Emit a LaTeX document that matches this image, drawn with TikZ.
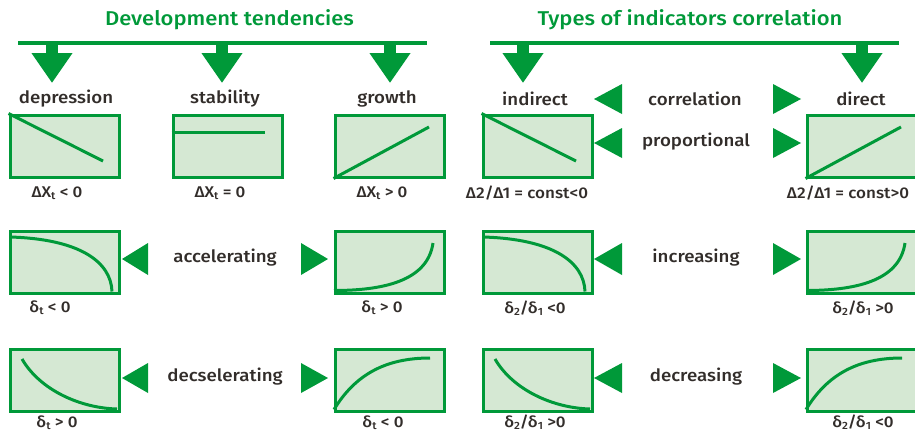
\documentclass[tikz,border=0pt]{standalone}
\usepackage{fontspec}
\setmainfont{Fira Sans}[BoldFont={Fira Sans Medium},FakeStretch=1.1]
\usetikzlibrary{arrows.meta}
\definecolor{gr}{RGB}{0,153,57}
\definecolor{lgr}{RGB}{213,232,211}
\definecolor{tx}{RGB}{50,45,42}
\newcommand\sbx[1]{\raisebox{-0.25ex}{\fontsize{10.5}{10.5}\selectfont #1}}
\begin{document}
\begin{tikzpicture}[x=1pt,y=-1pt,
  panel/.style={draw=gr,fill=lgr,line width=3pt,minimum width=109pt,minimum height=62pt,inner sep=0pt,anchor=north west},
  curve/.style={draw=gr,line width=3pt},
  title/.style={text=gr,font=\fontsize{20}{20}\selectfont\bfseries},
  head/.style={text=tx,font=\fontsize{17}{17}\selectfont\bfseries},
  cond/.style={text=tx,font=\fontsize{15.5}{15.5}\selectfont\bfseries},
  bar/.style={draw=gr,line width=3.7pt},
  downarr/.style={draw=gr,line width=12pt,-{Triangle[width=39pt,length=30pt]}},
  tri/.style={fill=gr}
]
\useasboundingbox (0,0) rectangle (915,432);

% titles and bars
\node[title] (t1) at (229.5,20) {Development tendencies};
\node[title] (t2) at (690,20) {Types of indicators correlation};
\coordinate (b1l) at (18,42.7); \coordinate (b1r) at (427,42.7);
\coordinate (b2l) at (490,42.7); \coordinate (b2r) at (899,42.7);
\draw[bar] (b1l) -- (b1r);
\draw[bar] (b2l) -- (b2r);

% heads
\node[head] (hdep) at (66,99) {depression};
\node[head] (hsta) at (225,99) {stability};
\node[head] (hgro) at (387,99) {growth};
\node[head] (hind) at (535,99) {indirect};
\node[head] (hdir) at (861,99) {direct};
\node[head] (hcor) at (695,99) {correlation};
\node[head] (hpro) at (696,142) {proportional};
\node[head] (hacc) at (225,258) {accelerating};
\node[head] (hinc) at (696,258) {increasing};
\node[head] (hdec) at (225,377) {decselerating};
\node[head] (hdcr) at (696,377) {decreasing};

% down arrows
\foreach \n/\x in {a/52,b/222,c/390,d/523,e/862}{
  \coordinate (s\n) at (\x,41);
  \coordinate (e\n) at (\x,83);
  \draw[downarr] (s\n) -- (e\n);
}

% panels
\node[panel] (p11) at (8.5,113.5) {};
\node[panel] (p12) at (171.5,113.5) {};
\node[panel] (p13) at (333.5,113.5) {};
\node[panel] (p14) at (481.5,113.5) {};
\node[panel] (p15) at (805.5,113.5) {};
\node[panel] (p21) at (8.5,229.5) {};
\node[panel] (p22) at (333.5,229.5) {};
\node[panel] (p23) at (481.5,229.5) {};
\node[panel] (p24) at (805.5,229.5) {};
\node[panel] (p31) at (8.5,347.5) {};
\node[panel] (p32) at (333.5,347.5) {};
\node[panel] (p33) at (481.5,347.5) {};
\node[panel] (p34) at (805.5,347.5) {};

% curves row 1
\foreach \p in {p11,p14}{
  \draw[curve] (\p.north west) -- ([shift={(94.5,47.5)}]\p.north west);
}
\draw[curve] ([shift={(0,18.5)}]p12.north west) -- ([shift={(93.5,18.5)}]p12.north west);
\foreach \p in {p13,p15}{
  \draw[curve] (\p.south west) -- ([shift={(95.5,13.5)}]\p.north west);
}
% row 2
\foreach \p in {p21,p23}{
  \draw[curve] ([shift={(1.5,7.5)}]\p.north west) .. controls ([shift={(71.5,9.5)}]\p.north west) and ([shift={(102.5,32.5)}]\p.north west) .. ([shift={(103.5,62)}]\p.north west);
}
\foreach \p in {p22,p24}{
  \draw[curve] ([shift={(0.5,61)}]\p.north west) .. controls ([shift={(56.5,61)}]\p.north west) and ([shift={(94.5,48.5)}]\p.north west) .. ([shift={(99.5,13.5)}]\p.north west);
}
% row 3
\foreach \p in {p31,p33}{
  \draw[curve] ([shift={(13.5,11.5)}]\p.north west) .. controls ([shift={(31.5,42.5)}]\p.north west) and ([shift={(71.5,60.5)}]\p.north west) .. ([shift={(108.5,61.5)}]\p.north west);
}
\foreach \p in {p32,p34}{
  \draw[curve] ([shift={(0.5,62)}]\p.north west) .. controls ([shift={(21.5,27.5)}]\p.north west) and ([shift={(51.5,10.5)}]\p.north west) .. ([shift={(96.5,10.5)}]\p.north west);
}

% triangles
\fill[tri] (594,99) -- (622,84) -- (622,114) -- cycle;
\fill[tri] (801,99) -- (773,84) -- (773,114) -- cycle;
\fill[tri] (594,143) -- (622,128) -- (622,158) -- cycle;
\fill[tri] (801,143) -- (773,128) -- (773,158) -- cycle;
\fill[tri] (122,259) -- (148,243) -- (148,275) -- cycle;
\fill[tri] (328,259) -- (301,243) -- (301,275) -- cycle;
\fill[tri] (594,259) -- (622,243) -- (622,275) -- cycle;
\fill[tri] (801,259) -- (773,243) -- (773,275) -- cycle;
\fill[tri] (122,378) -- (148,363) -- (148,393) -- cycle;
\fill[tri] (328,378) -- (301,363) -- (301,393) -- cycle;
\fill[tri] (594,378) -- (622,363) -- (622,393) -- cycle;
\fill[tri] (801,378) -- (773,363) -- (773,393) -- cycle;

% conditions
\node[cond] (c11) at (57,193) {ΔX\sbx{t} < 0};
\node[cond] (c12) at (220,193) {ΔX\sbx{t} = 0};
\node[cond] (c13) at (382,193) {ΔX\sbx{t} > 0};
\node[cond] (c14) at (527,193) {Δ2/Δ1 = const<0};
\node[cond] (c15) at (848,193) {Δ2/Δ1 = const>0};
\node[cond] (c21) at (50,308) {δ\sbx{t} < 0};
\node[cond] (c22) at (382,308) {δ\sbx{t} > 0};
\node[cond] (c23) at (535,308) {δ\sbx{2}/δ\sbx{1} <0};
\node[cond] (c24) at (863,308) {δ\sbx{2}/δ\sbx{1} >0};
\node[cond] (c31) at (57,422.5) {δ\sbx{t} > 0};
\node[cond] (c32) at (383,422.5) {δ\sbx{t} < 0};
\node[cond] (c33) at (535,422.5) {δ\sbx{2}/δ\sbx{1} >0};
\node[cond] (c34) at (863,422.5) {δ\sbx{2}/δ\sbx{1} <0};
\end{tikzpicture}
\end{document}
